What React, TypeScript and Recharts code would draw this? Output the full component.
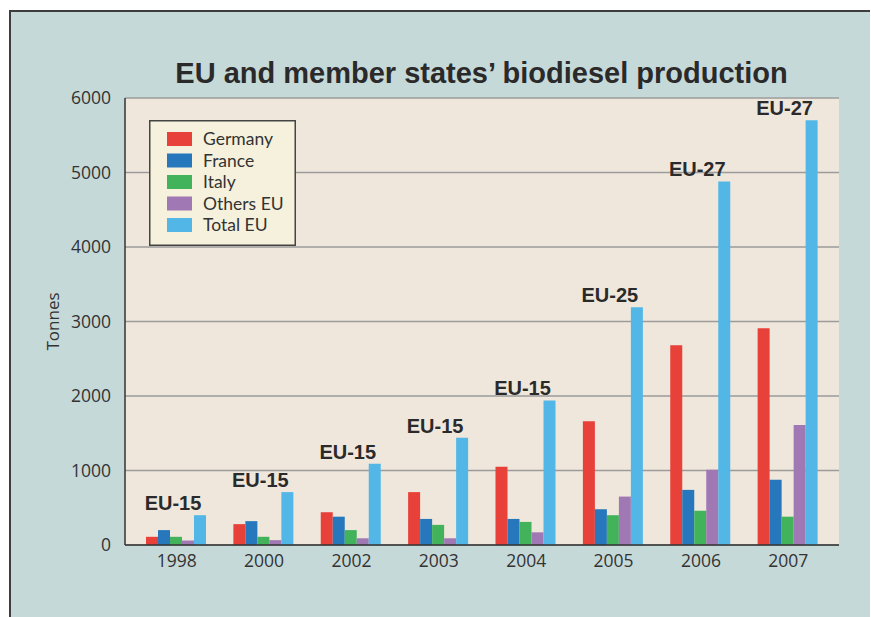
import React from 'react';
import { BarChart, Bar, XAxis, YAxis, CartesianGrid, Legend, LabelList } from 'recharts';

const years = ['1998', '2000', '2002', '2003', '2004', '2005', '2006', '2007'];
const germany = [110, 280, 440, 710, 1050, 1660, 2680, 2910];
const france = [200, 320, 380, 350, 350, 480, 740, 875];
const italy = [110, 110, 200, 270, 310, 400, 460, 380];
const othersEU = [60, 65, 90, 90, 170, 650, 1010, 1610];
const totalEU = [400, 710, 1090, 1440, 1940, 3190, 4880, 5700];
const regions = ['EU-15', 'EU-15', 'EU-15', 'EU-15', 'EU-15', 'EU-25', 'EU-27', 'EU-27'];
const yTicks = [0, 1000, 2000, 3000, 4000, 5000, 6000];

const seriesNames = ['Germany', 'France', 'Italy', 'Others EU', 'Total EU'];
const seriesColors = ['#e8413a', '#2677bc', '#42b35b', '#a078b4', '#52b7e6'];

const data = years.map((y, i) => ({
  year: y,
  germany: germany[i],
  france: france[i],
  italy: italy[i],
  others: othersEU[i],
  total: totalEU[i],
  region: regions[i],
}));

const FONT = '"Open Sans", "Noto Sans", sans-serif';
const LEGEND_FONT = 'Lato, "Open Sans", sans-serif';

const RegionLabel = (props: any) => {
  const { x, y, width, value } = props;
  const cx = Number(x) + Number(width) / 2 - 2 * Number(width) - 3;
  return (
    <text
      x={cx}
      y={Number(y) - 5}
      textAnchor="middle"
      fontFamily='"Liberation Sans", Arial, sans-serif'
      fontWeight="bold"
      fontSize={20}
      fill="#2b2a2b"
    >
      {value}
    </text>
  );
};

const LegendBox = () => {
  return (
    <svg width={147} height={126} style={{ display: 'block' }}>
      <rect x={0.75} y={0.75} width={145.5} height={124.5} fill="#f6f1dc" stroke="#444" strokeWidth={1.5} />
      {seriesNames.map((name, i) => {
        const cy = 19 + i * 21.5;
        return (
          <g key={name}>
            <rect x={18} y={cy - 7} width={25} height={14} fill={seriesColors[i]} />
            <text x={54} y={cy + 6} fontFamily={LEGEND_FONT} fontSize={17.5} fill="#333">
              {name}
            </text>
          </g>
        );
      })}
    </svg>
  );
};

export default function App() {
  return (
    <div style={{ position: 'absolute', left: 0, top: 0, width: 871, height: 617, background: '#fff', overflow: 'hidden' }}>
      <div
        style={{
          position: 'absolute',
          left: 9,
          top: 10,
          width: 859,
          height: 620,
          background: '#c6d9d9',
          borderLeft: '2px solid #3d3d3d',
          borderTop: '2px solid #3d3d3d',
        }}
      />
      <div
        style={{
          position: 'absolute',
          left: 0,
          width: 963,
          top: 56,
          textAlign: 'center',
          fontFamily: '"Liberation Sans", Arial, sans-serif',
          fontWeight: 'bold',
          fontSize: 29,
          lineHeight: '34px',
          color: '#2b2a2b',
          whiteSpace: 'nowrap',
        }}
      >
        EU and member states’ biodiesel production
      </div>
      <div style={{ position: 'absolute', left: 0, top: 0 }}>
        <BarChart
          width={871}
          height={617}
          data={data}
          margin={{ top: 98, right: 32, bottom: 42, left: 65 }}
          barCategoryGap={13}
          barGap={0}
        >
          <CartesianGrid vertical={false} fill="#efe7db" stroke="#9b9b9b" strokeWidth={1.5} fillOpacity={1} />
          <XAxis
            dataKey="year"
            height={30}
            padding={{ left: 8, right: 7 }}
            tickLine={false}
            tickSize={0}
            tickMargin={10}
            axisLine={{ stroke: '#333', strokeWidth: 1.5 }}
            tick={{ fontFamily: FONT, fontSize: 17.5, fill: '#333' }}
            interval={0}
          />
          <XAxis
            xAxisId="top"
            orientation="top"
            dataKey="year"
            height={0}
            tick={false}
            tickLine={false}
            axisLine={{ stroke: '#444', strokeWidth: 1.5 }}
          />
          <YAxis
            width={60}
            domain={[0, 6000]}
            ticks={yTicks}
            tickLine={false}
            tickSize={0}
            tickMargin={14}
            axisLine={{ stroke: '#333', strokeWidth: 1.5 }}
            tick={{ fontFamily: FONT, fontSize: 17.5, fill: '#333' }}
            label={{
              value: 'Tonnes',
              angle: -90,
              position: 'insideLeft',
              offset: -12,
              style: { fontFamily: FONT, fontSize: 17, fill: '#333', textAnchor: 'middle' },
            }}
          />
          <YAxis
            yAxisId="right"
            orientation="right"
            width={0}
            domain={[0, 6000]}
            tick={false}
            tickLine={false}
            axisLine={{ stroke: '#444', strokeWidth: 1.5 }}
          />
          <Legend
            layout="vertical"
            align="center"
            verticalAlign="middle"
            wrapperStyle={{ left: 149, top: 120, width: 147, height: 126 }}
            content={<LegendBox />}
          />
          <Bar dataKey="germany" name={seriesNames[0]} fill={seriesColors[0]} isAnimationActive={false} />
          <Bar dataKey="france" name={seriesNames[1]} fill={seriesColors[1]} isAnimationActive={false} />
          <Bar dataKey="italy" name={seriesNames[2]} fill={seriesColors[2]} isAnimationActive={false} />
          <Bar dataKey="others" name={seriesNames[3]} fill={seriesColors[3]} isAnimationActive={false} />
          <Bar dataKey="total" name={seriesNames[4]} fill={seriesColors[4]} isAnimationActive={false}>
            <LabelList dataKey="region" content={<RegionLabel />} />
          </Bar>
        </BarChart>
      </div>
    </div>
  );
}
